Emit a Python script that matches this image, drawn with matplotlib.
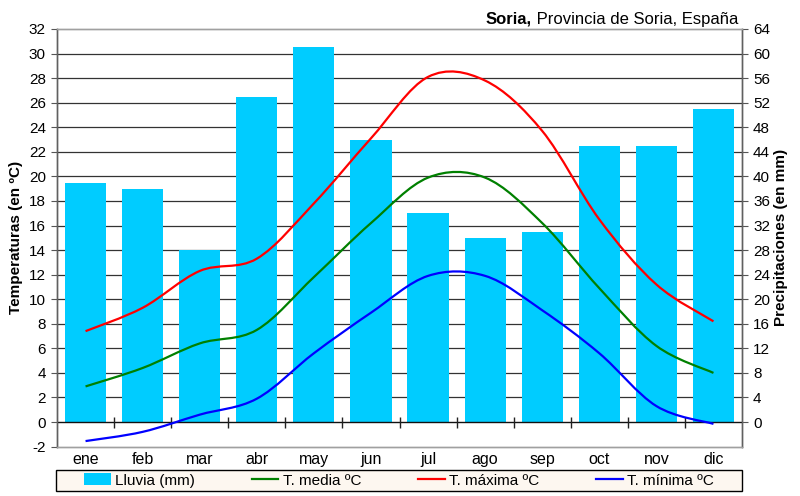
import matplotlib
matplotlib.use("Agg")
import matplotlib.pyplot as plt
from matplotlib.path import Path
from matplotlib.patches import PathPatch, Patch
from matplotlib.lines import Line2D
import numpy as np

plt.rcParams['font.family'] = ['Liberation Sans', 'DejaVu Sans']

months = ["ene", "feb", "mar", "abr", "may", "jun", "jul", "ago", "sep", "oct", "nov", "dic"]
lluvia = [39, 38, 28, 53, 61, 46, 34, 30, 31, 45, 45, 51]
t_media = [2.9, 4.4, 6.4, 7.5, 11.8, 16.2, 19.9, 19.9, 16.2, 10.9, 6.2, 4.0]
t_max = [7.4, 9.3, 12.3, 13.3, 17.8, 23.1, 28.1, 27.8, 23.7, 16.5, 11.2, 8.2]
t_min = [-1.55, -0.8, 0.6, 1.9, 5.6, 8.9, 11.9, 11.9, 9.1, 5.6, 1.3, -0.15]

temp_ticks = list(range(-2, 33, 2))
prec_ticks = list(range(0, 65, 4))

W, H = 800, 496
fig = plt.figure(figsize=(W / 100, H / 100), dpi=100)
x0, x1 = 57, 742
y_top, y_bot = 29, 446.6
rect = [x0 / W, (H - y_bot) / H, (x1 - x0) / W, (y_bot - y_top) / H]

ax_t = fig.add_axes(rect)
ax_p = ax_t.twinx()
ax_t.set_zorder(ax_p.get_zorder() + 1)
ax_t.patch.set_visible(False)

x = np.arange(len(months))

# bars on precipitation axis
ax_p.bar(x, lluvia, width=0.72, color="#00CCFF", edgecolor="#00CCFF", linewidth=0, zorder=2)
ax_p.set_ylim(-4, 64)
ax_t.set_ylim(-2, 32)
ax_t.set_xlim(-0.5, len(months) - 0.5)

# gridlines
for v in prec_ticks[1:-1]:
    ax_p.axhline(v, color="#333333", lw=0.9, zorder=1)
ax_p.axhline(0, color="#111111", lw=1.0, zorder=3)
# category boundary ticks on the zero line
for b in np.arange(0.5, len(months) - 0.5, 1.0):
    ax_p.plot([b, b], [-0.9, 0.9], color="#222222", lw=1.0, zorder=3, solid_capstyle="butt")


def smooth_path(xs, ys):
    pts = np.column_stack([xs, ys]).astype(float)
    n = len(pts)
    verts = [pts[0]]
    codes = [Path.MOVETO]
    for i in range(n - 1):
        p0 = pts[i - 1] if i > 0 else pts[i]
        p1 = pts[i]
        p2 = pts[i + 1]
        p3 = pts[i + 2] if i + 2 < n else pts[i + 1]
        c1 = p1 + (p2 - p0) / 6.0
        c2 = p2 - (p3 - p1) / 6.0
        verts += [c1, c2, p2]
        codes += [Path.CURVE4] * 3
    return Path(verts, codes)


for ys, col in [(t_media, "#008000"), (t_max, "#FF0000"), (t_min, "#0000FF")]:
    ax_t.add_patch(PathPatch(smooth_path(x, ys), facecolor="none", edgecolor=col,
                             lw=1.6, zorder=4, capstyle="butt"))

# axes styling
ax_t.set_yticks(temp_ticks)
ax_t.set_yticklabels([str(t) for t in temp_ticks], fontsize=11)
ax_p.set_yticks(prec_ticks)
ax_p.set_yticklabels([str(t) for t in prec_ticks], fontsize=11)
ax_t.set_xticks(x)
ax_t.set_xticklabels(months, fontsize=11.5)
ax_t.tick_params(axis="x", length=0, pad=4)
ax_t.tick_params(axis="y", direction="out", length=4, width=0.8, color="#555555", pad=4)
ax_p.tick_params(axis="y", direction="out", length=4, width=0.8, color="#555555", pad=4)
ax_p.tick_params(axis="x", length=0)

for a in (ax_t, ax_p):
    for s in a.spines.values():
        s.set_color("#A0A0A0")
        s.set_linewidth(1.0)
for a in (ax_t, ax_p):
    a.spines["left"].set_color("#606060")
    a.spines["right"].set_color("#606060")

ax_t.set_ylabel("Temperaturas (en ºC)", fontsize=11, fontweight="bold", labelpad=4)
ax_p.set_ylabel("Precipitaciones (en mm)", fontsize=11, fontweight="bold", labelpad=3)

# title
fig.canvas.draw()
r = fig.canvas.get_renderer()
t2 = fig.text(738 / W, 1 - 24 / H, " Provincia de Soria, España", ha="right", va="baseline", fontsize=12)
bb = t2.get_window_extent(renderer=r)
fig.text(bb.x0 / W, 1 - 24 / H, "Soria,", ha="right", va="baseline", fontsize=12, fontweight="bold")

# legend
handles = [Patch(facecolor="#00CCFF", edgecolor="none"),
           Line2D([], [], color="#008000", lw=1.6),
           Line2D([], [], color="#FF0000", lw=1.6),
           Line2D([], [], color="#0000FF", lw=1.6)]
labels = ["Lluvia (mm)", "T. media ºC", "T. máxima ºC", "T. mínima ºC"]
leg = fig.legend(handles, labels, loc="center", ncol=4,
                 bbox_to_anchor=(56 / W, 5 / H, 686 / W, 21 / H), fontsize=11,
                 frameon=False, handlelength=1.75, handleheight=0.8,
                 handletextpad=0.3, borderpad=0.1, borderaxespad=0, columnspacing=3.7)
# legend background box
fig.patches.append(matplotlib.patches.Rectangle((56 / W, 5 / H), 686 / W, 21 / H,
                   transform=fig.transFigure, facecolor="#FDF7F0", edgecolor="#000000",
                   lw=1.0, zorder=0))

fig.savefig("out.png", dpi=100)
